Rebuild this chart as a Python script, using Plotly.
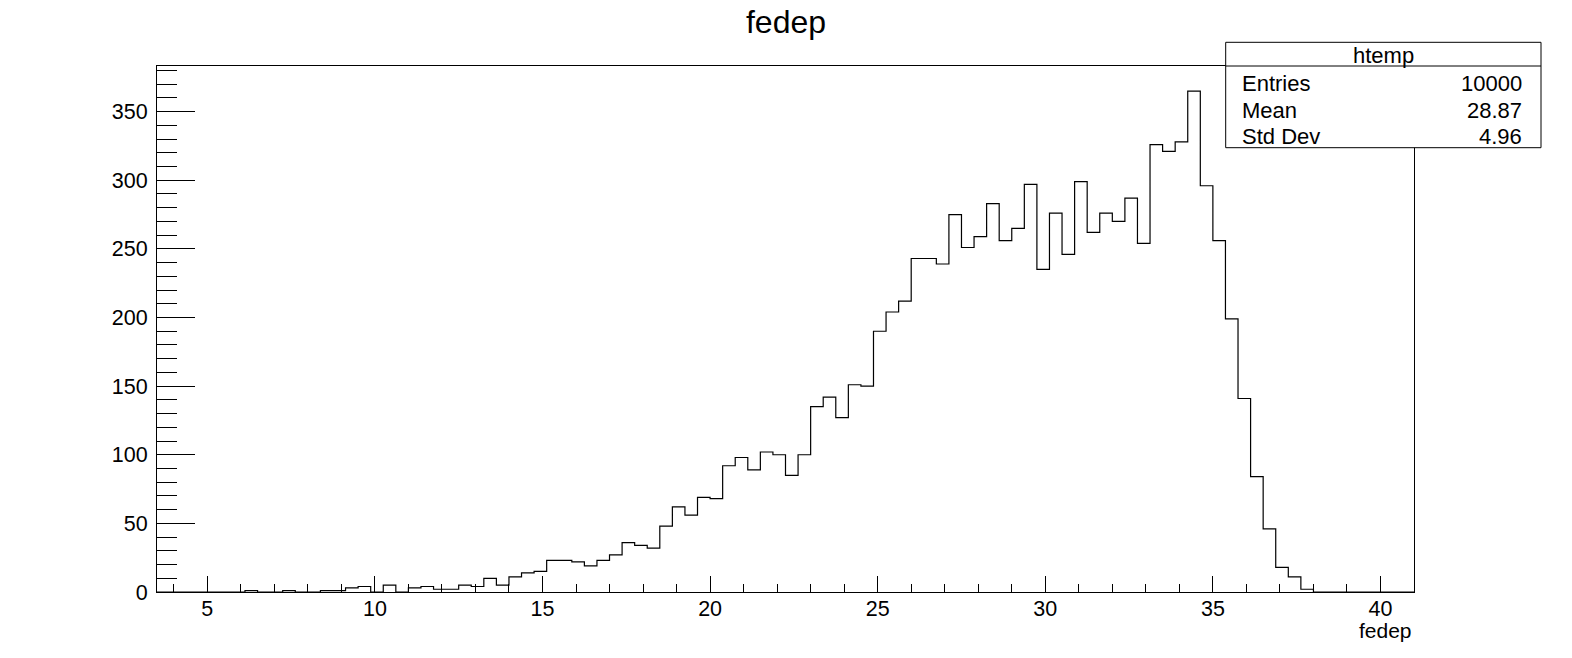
import plotly.graph_objects as go

# Histogram definition (ROOT htemp: 100 bins from 3.5 to 41)
x_min = 3.5
x_max = 41.0
n_bins = 100

# Bin contents
counts = [
    0, 0, 0, 0, 0, 0, 0, 1, 0, 0,
    1, 0, 0, 1, 1, 3, 4, 0, 5, 0,
    3, 4, 2, 2, 5, 4, 10, 5, 11, 14,
    15, 23, 23, 22, 19, 23, 27, 36, 34, 32,
    48, 62, 56, 69, 68, 92, 98, 89, 102, 100,
    85, 100, 135, 142, 127, 151, 150, 190, 204, 212,
    243, 243, 239, 275, 251, 259, 283, 256, 265, 297,
    235, 276, 246, 299, 262, 276, 270, 287, 254, 326,
    321, 328, 365, 296, 256, 199, 141, 84, 46, 18,
    11, 2, 0, 0, 0, 0, 0, 0, 0, 0,
]

title_text = "fedep"
x_title = "fedep"
stats_name = "htemp"
stats_labels = ["Entries", "Mean", "Std Dev"]
stats_values = ["10000", "28.87", "4.96"]

x_ticks = [5, 10, 15, 20, 25, 30, 35, 40]
y_ticks = [0, 50, 100, 150, 200, 250, 300, 350]

bin_w = (x_max - x_min) / n_bins
edges = [x_min + i * bin_w for i in range(n_bins + 1)]
y_step = counts + [counts[-1]]
y_top = max(counts) * 1.05

FONT = "Liberation Sans, Arial, Helvetica, sans-serif"

fig = go.Figure()
fig.add_trace(go.Scatter(
    x=edges, y=y_step, mode="lines", line=dict(shape="hv", color="black", width=1.2),
    hoverinfo="skip", showlegend=False,
))

W, H = 1572, 658
L, R, T, B = 157, 158, 66, 66
pw = W - L - R
ph = H - T - B


def px(X):
    return (X - L) / pw


def py(Y):
    return (H - B - Y) / ph


fig.update_layout(
    width=W, height=H,
    margin=dict(l=L, r=R, t=T, b=B),
    plot_bgcolor="white", paper_bgcolor="white",
    font=dict(family=FONT, color="black", size=21),
    title=dict(text=title_text, x=0.5, xanchor="center", xref="container",
               y=1 - 22 / H, yref="container", yanchor="middle",
               font=dict(size=32, family=FONT, color="black")),
    showlegend=False,
)

fig.update_xaxes(
    range=[x_min, x_max], showgrid=False, zeroline=False,
    showline=True, linecolor="black", linewidth=1, mirror=True,
    ticks="inside", ticklen=16, tickwidth=1, tickcolor="black",
    tickvals=x_ticks, ticktext=[str(v) for v in x_ticks],
    tickfont=dict(size=21.5, family=FONT, color="black"),
    ticklabelstandoff=-3,
    minor=dict(ticks="inside", ticklen=8, tickwidth=1, tickcolor="black", dtick=1, tick0=0, showgrid=False),
)
fig.update_yaxes(
    range=[0, y_top], showgrid=False, zeroline=False,
    showline=True, linecolor="black", linewidth=1, mirror=True,
    ticks="inside", ticklen=38, tickwidth=1, tickcolor="black",
    tickvals=y_ticks, ticktext=[str(v) for v in y_ticks],
    tickfont=dict(size=21.5, family=FONT, color="black"),
    ticklabelstandoff=4,
    minor=dict(ticks="inside", ticklen=20, tickwidth=1, tickcolor="black", dtick=10, tick0=0, showgrid=False),
)

# Stats box
bx0, bx1 = px(1225.7), px(1541)
by0, by1 = py(147.7), py(42.3)
fig.add_shape(type="rect", xref="paper", yref="paper", x0=bx0, x1=bx1, y0=by0, y1=by1,
              line=dict(color="black", width=1), fillcolor="white", layer="above")
fig.add_shape(type="line", xref="paper", yref="paper", x0=bx0, x1=bx1, y0=py(66), y1=py(66),
              line=dict(color="black", width=1), layer="above")
fig.add_annotation(text=stats_name, xref="paper", yref="paper", x=px(1383), y=py(55),
                   xanchor="center", yanchor="middle", showarrow=False,
                   font=dict(size=22, family=FONT, color="black"))
row_y = [83.3, 110, 136]
for lab, val, yy in zip(stats_labels, stats_values, row_y):
    fig.add_annotation(text=lab, xref="paper", yref="paper", x=px(1240), y=py(yy),
                       xanchor="left", yanchor="middle", showarrow=False,
                       font=dict(size=22, family=FONT, color="black"))
    fig.add_annotation(text=val, xref="paper", yref="paper", x=px(1524), y=py(yy),
                       xanchor="right", yanchor="middle", showarrow=False,
                       font=dict(size=22, family=FONT, color="black"))

# x-axis title at the right end, below the labels
fig.add_annotation(text=x_title, xref="paper", yref="paper", x=1.0, y=py(630),
                   xanchor="right", yanchor="middle", showarrow=False,
                   font=dict(size=21, family=FONT, color="black"))

# remove the default 8px page margin so the figure fills the window exactly
fig.write_html("out.html",
               config={"displayModeBar": False},
               post_script="document.body.style.margin='0';document.body.style.overflow='hidden';")
